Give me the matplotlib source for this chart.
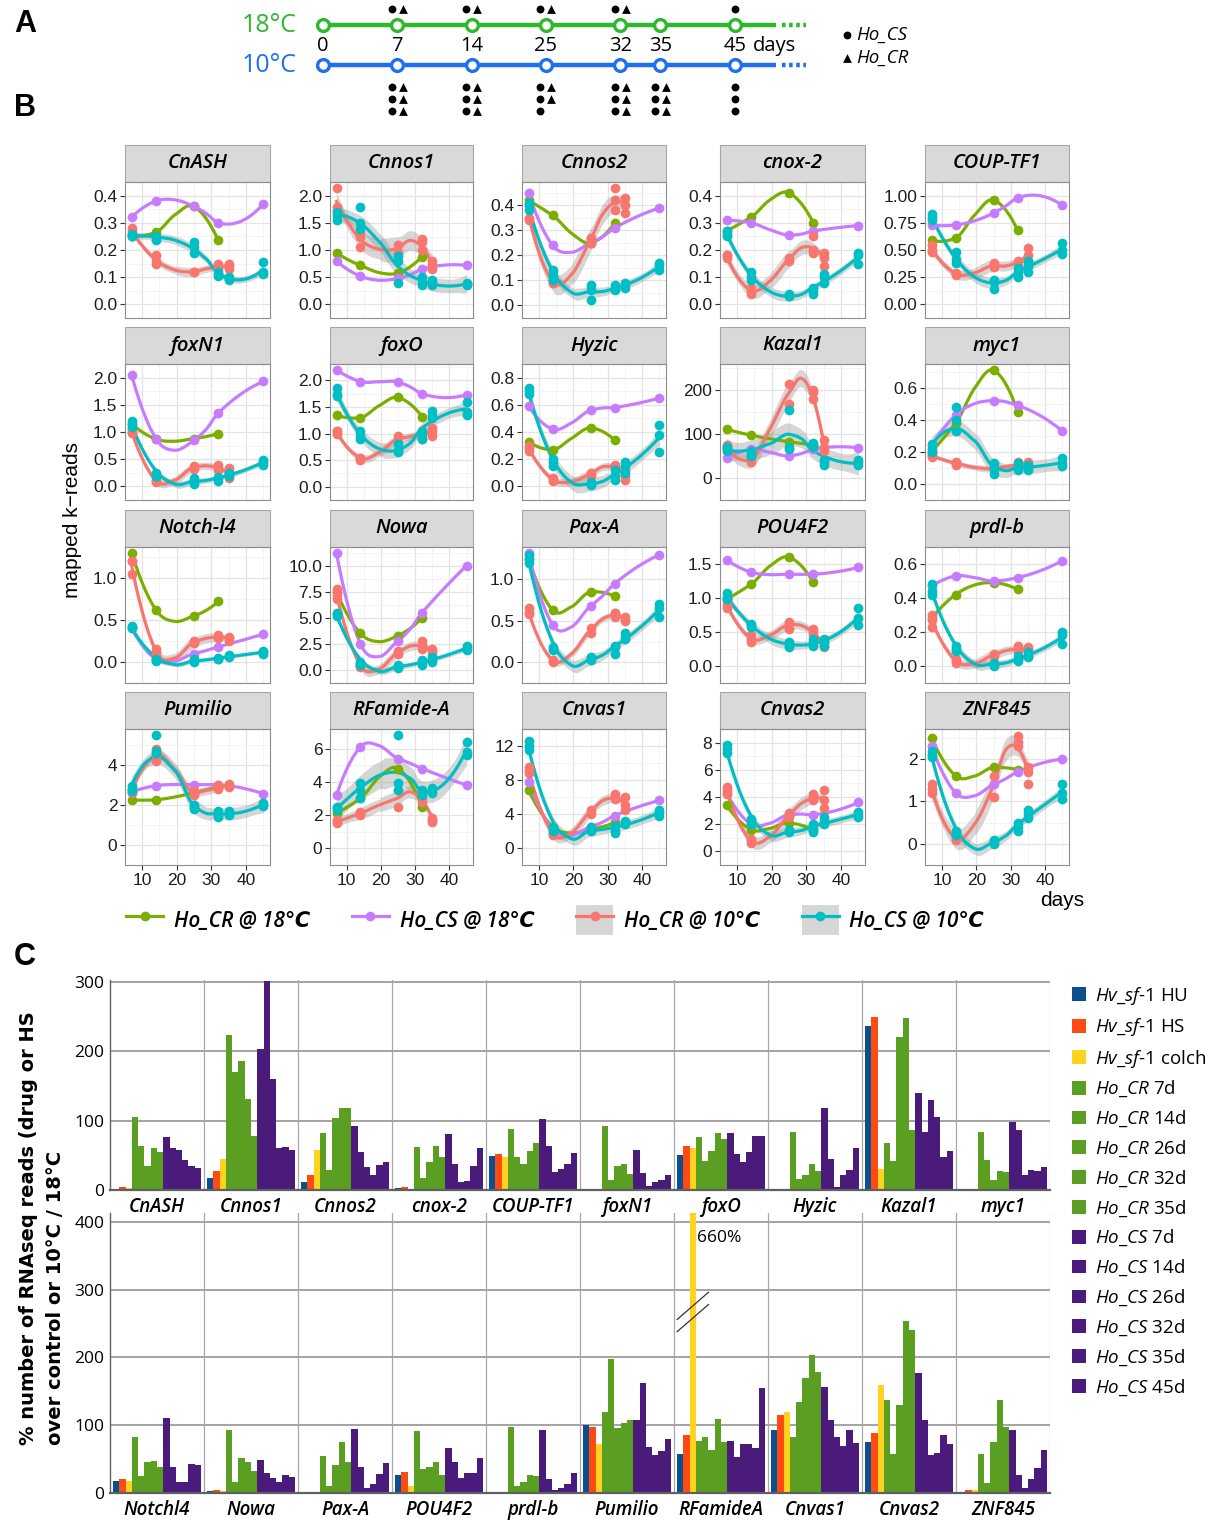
import numpy as np
import matplotlib
matplotlib.use("Agg")
import matplotlib.pyplot as plt
from matplotlib.patches import Rectangle, Patch
from matplotlib.lines import Line2D

plt.rcParams['font.family'] = ['Liberation Sans', 'DejaVu Sans']
plt.rcParams['mathtext.fontset'] = 'custom'
plt.rcParams['mathtext.it'] = 'Open Sans:italic'
plt.rcParams['mathtext.rm'] = 'Open Sans'

W, H = 1224, 1528

# ---------------- panel A: sampling scheme ----------------
timeline_days = [0, 7, 14, 25, 32, 35, 45]
# (Ho_CS, Ho_CR) replicates sampled per day
reps_18 = {7: (1, 1), 14: (1, 1), 25: (1, 1), 32: (1, 1), 45: (1, 0)}
reps_10 = {7: (3, 3), 14: (3, 3), 25: (3, 2), 32: (3, 3), 35: (3, 3), 45: (3, 0)}

# ---------------- panel B: mapped k-reads ----------------
genes_b = ['CnASH', 'Cnnos1', 'Cnnos2', 'cnox-2', 'COUP-TF1',
           'foxN1', 'foxO', 'Hyzic', 'Kazal1', 'myc1',
           'Notch-l4', 'Nowa', 'Pax-A', 'POU4F2', 'prdl-b',
           'Pumilio', 'RFamide-A', 'Cnvas1', 'Cnvas2', 'ZNF845']

days_cr18 = [7, 14, 25, 32]
days_cs18 = [7, 14, 25, 32, 45]
days_cr10 = [7, 14, 25, 32, 35]
days_cs10 = [7, 14, 25, 32, 35, 45]

cr18 = {
    'CnASH': [0.25, 0.265, 0.36, 0.235], 'Cnnos1': [0.95, 0.72, 0.58, 0.88],
    'Cnnos2': [0.42, 0.36, 0.25, 0.33], 'cnox-2': [0.27, 0.32, 0.41, 0.30],
    'COUP-TF1': [0.59, 0.61, 0.96, 0.68], 'foxN1': [1.15, 0.87, 0.88, 0.97],
    'foxO': [1.35, 1.30, 1.68, 1.32], 'Hyzic': [0.33, 0.27, 0.43, 0.34],
    'Kazal1': [110, 97, 82, 75], 'myc1': [0.20, 0.38, 0.71, 0.45],
    'Notch-l4': [1.30, 0.62, 0.55, 0.72], 'Nowa': [7.5, 3.5, 3.3, 5.0],
    'Pax-A': [1.25, 0.63, 0.85, 0.80], 'POU4F2': [0.98, 1.20, 1.60, 1.23],
    'prdl-b': [0.28, 0.42, 0.49, 0.45], 'Pumilio': [2.25, 2.25, 2.6, 2.9],
    'RFamide-A': [2.1, 3.0, 4.8, 2.5], 'Cnvas1': [6.8, 2.5, 2.2, 3.0],
    'Cnvas2': [3.4, 1.6, 2.1, 1.6], 'ZNF845': [2.5, 1.6, 1.8, 1.75],
}
cs18 = {
    'CnASH': [0.32, 0.38, 0.36, 0.30, 0.37], 'Cnnos1': [0.80, 0.52, 0.48, 0.65, 0.72],
    'Cnnos2': [0.45, 0.24, 0.25, 0.31, 0.39], 'cnox-2': [0.31, 0.30, 0.255, 0.27, 0.29],
    'COUP-TF1': [0.73, 0.73, 0.84, 0.98, 0.91], 'foxN1': [2.05, 0.88, 0.85, 1.35, 1.93],
    'foxO': [2.2, 1.98, 1.97, 1.75, 1.73], 'Hyzic': [0.59, 0.42, 0.56, 0.58, 0.65],
    'Kazal1': [45, 65, 50, 65, 68], 'myc1': [0.24, 0.43, 0.52, 0.49, 0.33],
    'Notch-l4': [0.40, 0.03, 0.10, 0.18, 0.33], 'Nowa': [11.2, 2.5, 2.8, 5.5, 10.0],
    'Pax-A': [1.32, 0.45, 0.68, 0.95, 1.30], 'POU4F2': [1.56, 1.38, 1.35, 1.35, 1.45],
    'prdl-b': [0.47, 0.53, 0.50, 0.52, 0.62], 'Pumilio': [2.65, 2.95, 3.0, 3.0, 2.55],
    'RFamide-A': [3.2, 6.1, 5.4, 4.8, 3.8], 'Cnvas1': [7.8, 2.2, 2.5, 3.8, 5.6],
    'Cnvas2': [4.3, 2.0, 2.7, 2.7, 3.6], 'ZNF845': [2.3, 1.2, 1.4, 1.7, 2.0],
}
cr10 = {
    'CnASH': [[0.28, 0.27, 0.26], [0.18, 0.16, 0.15], [0.12, 0.12], [0.15, 0.13, 0.14], [0.15, 0.13, 0.14]],
    'Cnnos1': [[2.15, 1.75, 1.8], [1.3, 1.05, 1.25], [0.95, 1.1], [1.2, 1.15, 1.0], [0.8, 0.65, 0.72]],
    'Cnnos2': [[0.35, 0.34, 0.40], [0.10, 0.09, 0.09], [0.27, 0.25], [0.47, 0.38, 0.42], [0.43, 0.40, 0.37]],
    'cnox-2': [[0.18, 0.17, 0.18], [0.04, 0.05, 0.06], [0.16, 0.17], [0.25, 0.19, 0.20], [0.14, 0.19, 0.17]],
    'COUP-TF1': [[0.55, 0.50, 0.48], [0.28, 0.29, 0.27], [0.38, 0.34], [0.40, 0.38, 0.36], [0.52, 0.45, 0.40]],
    'foxN1': [[0.98, 1.0, 1.05], [0.10, 0.08, 0.12], [0.38, 0.32], [0.40, 0.33, 0.30], [0.33, 0.15, 0.25]],
    'foxO': [[1.05, 1.05, 1.0], [0.55, 0.50, 0.55], [0.95, 0.85], [1.05, 0.90, 1.0], [1.1, 0.95, 1.05]],
    'Hyzic': [[0.28, 0.26, 0.30], [0.05, 0.04, 0.06], [0.10, 0.08], [0.15, 0.14, 0.16], [0.12, 0.05, 0.08]],
    'Kazal1': [[75, 70, 65], [40, 35, 45], [212, 168], [200, 178, 195], [85, 60, 70]],
    'myc1': [[0.18, 0.17, 0.18], [0.14, 0.12, 0.13], [0.10, 0.09], [0.14, 0.12, 0.10], [0.14, 0.12, 0.11]],
    'Notch-l4': [[1.2, 1.05, 1.2], [0.15, 0.10, 0.12], [0.25, 0.22], [0.32, 0.30, 0.28], [0.30, 0.28, 0.25]],
    'Nowa': [[7.8, 6.8, 7.2], [0.5, 0.3, 0.4], [1.8, 1.5], [2.8, 2.0, 2.4], [1.8, 1.5, 2.0]],
    'Pax-A': [[0.65, 0.58, 0.60], [0.03, 0.0, 0.02], [0.35, 0.42], [0.60, 0.55, 0.60], [0.50, 0.55, 0.52]],
    'POU4F2': [[0.85, 0.90, 0.95], [0.35, 0.45, 0.40], [0.65, 0.55], [0.50, 0.55, 0.45], [0.30, 0.35, 0.28]],
    'prdl-b': [[0.30, 0.27, 0.23], [0.03, 0.02, 0.04], [0.07, 0.06], [0.12, 0.10, 0.09], [0.11, 0.10, 0.08]],
    'Pumilio': [[2.8, 2.6, 2.7], [4.2, 4.5, 4.8], [2.5, 2.7], [3.0, 2.8, 2.9], [3.0, 2.9, 3.05]],
    'RFamide-A': [[1.5, 1.7, 1.6], [2.1, 2.2, 2.0], [3.5, 2.5], [3.3, 2.8, 3.0], [1.7, 1.6, 1.8]],
    'Cnvas1': [[9.5, 8.8, 9.2], [1.5, 1.6, 1.8], [4.5, 4.0], [6.3, 5.8, 6.0], [6.0, 5.0, 4.5]],
    'Cnvas2': [[4.7, 4.5, 4.2], [0.9, 0.8, 0.6], [2.8, 2.5], [4.2, 4.0, 3.8], [4.5, 3.8, 3.2]],
    'ZNF845': [[1.4, 1.2, 1.3], [0.10, 0.15, 0.12], [1.6, 1.1], [2.55, 2.3, 2.4], [1.8, 1.4, 1.7]],
}
cs10 = {
    'CnASH': [[0.26, 0.25, 0.25], [0.25, 0.24, 0.235], [0.23, 0.21, 0.19], [0.11, 0.105, 0.12], [0.10, 0.09, 0.095], [0.155, 0.11, 0.12]],
    'Cnnos1': [[1.7, 1.55, 1.65], [1.8, 1.5, 1.4], [0.9, 0.8, 0.4], [0.5, 0.4, 0.35], [0.45, 0.35, 0.4], [0.4, 0.35, 0.38]],
    'Cnnos2': [[0.41, 0.40, 0.38], [0.14, 0.12, 0.10], [0.08, 0.02, 0.06], [0.08, 0.06, 0.07], [0.09, 0.07, 0.08], [0.16, 0.14, 0.17]],
    'cnox-2': [[0.26, 0.27, 0.25], [0.12, 0.09, 0.10], [0.04, 0.03, 0.03], [0.04, 0.05, 0.06], [0.11, 0.08, 0.10], [0.19, 0.15, 0.18]],
    'COUP-TF1': [[0.83, 0.80, 0.78], [0.48, 0.38, 0.42], [0.21, 0.14, 0.22], [0.25, 0.30, 0.33], [0.35, 0.40, 0.30], [0.56, 0.50, 0.46]],
    'foxN1': [[1.2, 1.15, 1.1], [0.25, 0.20, 0.20], [0.05, 0.15, 0.10], [0.18, 0.10, 0.15], [0.20, 0.25, 0.22], [0.45, 0.40, 0.48]],
    'foxO': [[1.85, 1.75, 1.7], [1.05, 0.95, 0.9], [0.8, 0.65, 0.7], [0.9, 1.05, 1.0], [1.42, 1.35, 1.3], [1.6, 1.35, 1.4]],
    'Hyzic': [[0.72, 0.70, 0.68], [0.20, 0.15, 0.18], [0.02, 0.03, 0.01], [0.12, 0.05, 0.08], [0.15, 0.18, 0.10], [0.45, 0.38, 0.25]],
    'Kazal1': [[70, 65, 60], [55, 50, 60], [155, 65, 70], [80, 75, 70], [30, 35, 40], [35, 40, 30]],
    'myc1': [[0.25, 0.22, 0.20], [0.48, 0.33, 0.40], [0.13, 0.06, 0.10], [0.13, 0.09, 0.10], [0.10, 0.12, 0.09], [0.16, 0.11, 0.13]],
    'Notch-l4': [[0.42, 0.40, 0.43], [0.02, 0.03, 0.01], [0.02, 0.03, 0.0], [0.05, 0.03, 0.04], [0.08, 0.06, 0.07], [0.10, 0.13, 0.12]],
    'Nowa': [[5.5, 5.2, 5.4], [0.8, 0.5, 0.6], [0.2, 0.3, 0.5], [0.8, 1.0, 0.5], [1.0, 1.2, 0.8], [2.3, 1.9, 2.1]],
    'Pax-A': [[1.30, 1.25, 1.20], [0.18, 0.15, 0.16], [0.05, 0.03, 0.06], [0.10, 0.20, 0.18], [0.30, 0.28, 0.35], [0.65, 0.70, 0.55]],
    'POU4F2': [[1.08, 1.0, 0.98], [0.62, 0.60, 0.58], [0.28, 0.30, 0.35], [0.30, 0.35, 0.40], [0.40, 0.30, 0.35], [0.85, 0.70, 0.60]],
    'prdl-b': [[0.48, 0.44, 0.42], [0.12, 0.10, 0.09], [0.02, 0.01, 0.0], [0.06, 0.04, 0.03], [0.08, 0.05, 0.06], [0.20, 0.18, 0.13]],
    'Pumilio': [[2.95, 2.7, 2.8], [5.5, 4.7, 4.6], [1.8, 1.9, 2.0], [1.5, 1.4, 1.7], [1.6, 1.5, 1.7], [2.1, 2.0, 1.95]],
    'RFamide-A': [[2.5, 2.3, 2.4], [3.9, 3.0, 3.5], [6.8, 3.9, 3.5], [3.5, 3.2, 3.4], [3.4, 3.3, 3.6], [6.4, 5.8, 5.6]],
    'Cnvas1': [[12.6, 11.5, 12.0], [2.5, 2.0, 2.2], [2.5, 2.0, 2.2], [2.0, 1.8, 2.6], [2.8, 3.2, 3.0], [4.2, 3.8, 4.5]],
    'Cnvas2': [[7.8, 7.5, 7.2], [2.4, 2.2, 2.0], [1.5, 1.4, 1.6], [1.4, 1.6, 2.0], [2.5, 2.2, 2.0], [2.9, 2.5, 2.7]],
    'ZNF845': [[2.2, 2.05, 2.1], [0.3, 0.2, 0.25], [0.1, 0.0, 0.05], [0.5, 0.3, 0.4], [0.8, 0.6, 0.7], [1.4, 1.05, 1.2]],
}
yticks_b = {
    'CnASH': [0, 0.1, 0.2, 0.3, 0.4], 'Cnnos1': [0, 0.5, 1, 1.5, 2],
    'Cnnos2': [0, 0.1, 0.2, 0.3, 0.4], 'cnox-2': [0, 0.1, 0.2, 0.3, 0.4],
    'COUP-TF1': [0, 0.25, 0.5, 0.75, 1.0], 'foxN1': [0, 0.5, 1, 1.5, 2],
    'foxO': [0, 0.5, 1, 1.5, 2], 'Hyzic': [0, 0.2, 0.4, 0.6, 0.8],
    'Kazal1': [0, 100, 200], 'myc1': [0, 0.2, 0.4, 0.6],
    'Notch-l4': [0, 0.5, 1.0], 'Nowa': [0, 2.5, 5, 7.5, 10],
    'Pax-A': [0, 0.5, 1.0], 'POU4F2': [0, 0.5, 1.0, 1.5],
    'prdl-b': [0, 0.2, 0.4, 0.6], 'Pumilio': [0, 2, 4],
    'RFamide-A': [0, 2, 4, 6], 'Cnvas1': [0, 4, 8, 12],
    'Cnvas2': [0, 2, 4, 6, 8], 'ZNF845': [0, 1, 2],
}
ytick_dec = {'CnASH': 1, 'Cnnos1': 1, 'Cnnos2': 1, 'cnox-2': 1, 'COUP-TF1': 2,
             'foxN1': 1, 'foxO': 1, 'Hyzic': 1, 'Kazal1': 0, 'myc1': 1,
             'Notch-l4': 1, 'Nowa': 1, 'Pax-A': 1, 'POU4F2': 1, 'prdl-b': 1,
             'Pumilio': 0, 'RFamide-A': 0, 'Cnvas1': 0, 'Cnvas2': 0, 'ZNF845': 0}

# ---------------- panel C: % reads ----------------
genes_c_top = ['CnASH', 'Cnnos1', 'Cnnos2', 'cnox-2', 'COUP-TF1', 'foxN1', 'foxO', 'Hyzic', 'Kazal1', 'myc1']
genes_c_bot = ['Notchl4', 'Nowa', 'Pax-A', 'POU4F2', 'prdl-b', 'Pumilio', 'RFamideA', 'Cnvas1', 'Cnvas2', 'ZNF845']
series_c = [r'$\it{Hv\_sf}$-$\it{1}$ HU', r'$\it{Hv\_sf}$-$\it{1}$ HS', r'$\it{Hv\_sf}$-$\it{1}$ colch',
            r'$\it{Ho\_CR}$ 7d', r'$\it{Ho\_CR}$ 14d', r'$\it{Ho\_CR}$ 26d', r'$\it{Ho\_CR}$ 32d', r'$\it{Ho\_CR}$ 35d',
            r'$\it{Ho\_CS}$ 7d', r'$\it{Ho\_CS}$ 14d', r'$\it{Ho\_CS}$ 26d', r'$\it{Ho\_CS}$ 32d', r'$\it{Ho\_CS}$ 35d',
            r'$\it{Ho\_CS}$ 45d']
colors_c = ['#0B4F8F', '#FF4A12', '#FFD21F'] + ['#5A9E22'] * 5 + ['#4A1B7A'] * 6
hv_pct = {
    'CnASH': [2, 5, 3], 'Cnnos1': [17, 27, 45], 'Cnnos2': [12, 22, 58], 'cnox-2': [3, 5, 0],
    'COUP-TF1': [49, 52, 48], 'foxN1': [0, 2, 0], 'foxO': [50, 63, 61], 'Hyzic': [0, 0, 0],
    'Kazal1': [237, 250, 31], 'myc1': [0, 2, 1],
    'Notchl4': [17, 20, 17], 'Nowa': [3, 5, 3], 'Pax-A': [0, 2, 0], 'POU4F2': [26, 31, 10],
    'prdl-b': [0, 2, 0], 'Pumilio': [101, 98, 73], 'RFamideA': [58, 86, 660],
    'Cnvas1': [93, 115, 120], 'Cnvas2': [75, 88, 159], 'ZNF845': [0, 4, 4],
}
cr_pct = {
    'CnASH': [105, 63, 34, 61, 55], 'Cnnos1': [224, 170, 186, 132, 78], 'Cnnos2': [82, 29, 104, 119, 118],
    'cnox-2': [62, 17, 40, 64, 47], 'COUP-TF1': [88, 47, 38, 56, 68], 'foxN1': [93, 15, 34, 37, 23],
    'foxO': [77, 42, 56, 82, 74], 'Hyzic': [83, 16, 21, 38, 28], 'Kazal1': [68, 42, 221, 248, 86],
    'myc1': [83, 43, 14, 27, 26],
    'Notchl4': [83, 25, 46, 47, 38], 'Nowa': [93, 16, 52, 46, 32], 'Pax-A': [54, 10, 41, 75, 46],
    'POU4F2': [91, 36, 38, 46, 27], 'prdl-b': [97, 10, 16, 26, 25], 'Pumilio': [120, 197, 96, 103, 108],
    'RFamideA': [76, 82, 64, 109, 75], 'Cnvas1': [83, 134, 169, 203, 178], 'Cnvas2': [137, 58, 130, 254, 240],
    'ZNF845': [57, 15, 75, 137, 97],
}
cs_pct = {
    'CnASH': [77, 61, 58, 44, 35, 32], 'Cnnos1': [204, 302, 160, 60, 62, 57], 'Cnnos2': [92, 55, 33, 22, 36, 41],
    'cnox-2': [81, 37, 12, 13, 35, 61], 'COUP-TF1': [103, 63, 26, 30, 38, 54], 'foxN1': [57, 25, 6, 12, 15, 22],
    'foxO': [82, 52, 40, 55, 78, 78], 'Hyzic': [118, 45, 4, 21, 29, 60], 'Kazal1': [140, 84, 130, 105, 48, 56],
    'myc1': [98, 87, 21, 29, 28, 33],
    'Notchl4': [110, 38, 16, 16, 43, 42], 'Nowa': [49, 30, 22, 16, 26, 23], 'Pax-A': [95, 38, 7, 14, 28, 44],
    'POU4F2': [66, 46, 22, 29, 29, 51], 'prdl-b': [93, 21, 4, 8, 14, 30], 'Pumilio': [107, 162, 68, 56, 62, 80],
    'RFamideA': [76, 53, 73, 72, 67, 155], 'Cnvas1': [157, 107, 83, 70, 93, 74], 'Cnvas2': [177, 108, 56, 59, 85, 73],
    'ZNF845': [93, 26, 8, 21, 37, 63],
}

COL_CR18, COL_CS18, COL_CR10, COL_CS10 = '#7CAE00', '#C77CFF', '#F8766D', '#00BFC4'
GREEN_A, BLUE_A = '#2DB82D', '#1F6FEF'


def px_axes(fig, x0, y0, x1, y1):
    return fig.add_axes([x0 / W, 1 - y1 / H, (x1 - x0) / W, (y1 - y0) / H])


def loess(x, y, grid, span=0.75):
    # local quadratic loess (tricube weights); fitted at vertices and joined
    # with cubic Hermite pieces, like R's surface = "interpolate"
    x = np.asarray(x, float)
    y = np.asarray(y, float)
    n = len(x)
    q = max(int(np.floor(n * span)), 3)

    def lmat(x0):
        d = np.abs(x - x0)
        h = np.sort(d)[q - 1] * 1.05 + 1e-9
        w = (1 - np.clip(d / h, 0, 1) ** 3) ** 3
        X = np.column_stack([np.ones(n), x - x0, (x - x0) ** 2])
        XtW = X.T * w
        return np.linalg.pinv(XtW @ X) @ XtW

    ux = np.unique(x)
    verts = np.unique(np.concatenate([ux, (ux[:-1] + ux[1:]) / 2]))
    vm = [lmat(v) for v in verts]
    val = np.array([m[0] @ y for m in vm])
    slo = np.array([m[1] @ y for m in vm])
    idx = np.clip(np.searchsorted(verts, grid, side='right') - 1, 0, len(verts) - 2)
    hh = verts[idx + 1] - verts[idx]
    t = (grid - verts[idx]) / hh
    fit = ((2 * t ** 3 - 3 * t ** 2 + 1) * val[idx] + (t ** 3 - 2 * t ** 2 + t) * hh * slo[idx]
           + (-2 * t ** 3 + 3 * t ** 2) * val[idx + 1] + (t ** 3 - t ** 2) * hh * slo[idx + 1])

    L = np.array([lmat(v)[0] for v in x])
    res = y - L @ y
    M = np.eye(n) - L
    d1 = np.trace(M.T @ M)
    sigma = np.sqrt(np.sum(res ** 2) / d1) if d1 > 1e-6 else 0.0
    se = np.array([sigma * np.sqrt(np.sum(lmat(g)[0] ** 2)) for g in grid])
    return fit, se


fig = plt.figure(figsize=(W / 100, H / 100), dpi=100)

# panel labels
for lab, (lx, ly) in {'A': (25, 24), 'B': (25, 108), 'C': (25, 957)}.items():
    fig.text(lx / W, 1 - ly / H, lab, fontsize=22, fontweight='bold', ha='center', va='center')

# ================= panel A =================
slots = [0, 1, 2, 3, 4, 4.54, 5.55]
slot_of = dict(zip(timeline_days, slots))
axA = px_axes(fig, 0, 0, W, 125)
axA.set_xlim(-323 / 74.3, (W - 323) / 74.3)
axA.set_ylim(125, 0)
axA.axis('off')
for yl, col, lab in [(25, GREEN_A, '18°C'), (65, BLUE_A, '10°C')]:
    axA.plot([0, 6.1], [yl, yl], color=col, lw=3.2, solid_capstyle='butt', zorder=1)
    axA.plot([6.18, 6.5], [yl, yl], color=col, lw=3.2, ls=(0, (0.8, 0.8)), zorder=1)
    axA.plot(slots, [yl] * len(slots), 'o', ms=8.5, mfc='white', mec=col, mew=2.4, zorder=2)
    axA.text(-0.36, yl, lab, color=col, ha='right', va='center', fontsize=18, family='Open Sans')
for d, s in zip(timeline_days, slots):
    axA.text(s, 46, str(d), ha='center', va='center', fontsize=14.5, family='Open Sans')
axA.text(slots[-1] + 0.24, 46, 'days', ha='left', va='center', fontsize=14.5, family='Open Sans')


def draw_reps(reps, rows_y):
    for d, (ncs, ncr) in reps.items():
        s = slot_of[d]
        for r in range(max(ncs, ncr)):
            yy = rows_y[r]
            if r < ncs:
                axA.scatter([s - (0.075 if ncr else 0)], [yy], s=32, marker='o', color='black', lw=0)
            if r < ncr:
                axA.scatter([s + 0.075], [yy], s=40, marker='^', color='black', lw=0)


draw_reps(reps_18, [9])
draw_reps(reps_10, [87, 99, 111])
axA.scatter([7.05], [35], s=32, marker='o', color='black', lw=0)
axA.scatter([7.05], [58], s=40, marker='^', color='black', lw=0)
axA.text(7.18, 35, 'Ho_CS', style='italic', fontsize=13.5, va='center', family='Open Sans')
axA.text(7.18, 58, 'Ho_CR', style='italic', fontsize=13.5, va='center', family='Open Sans')

# ================= panel B =================
col_x = [(125, 270), (330, 473), (522, 666), (720, 865), (925, 1069)]
row_y = [(182, 318), (364, 500), (547, 683), (729, 865)]
STRIP = 37
T = 2.1

for gi, gene in enumerate(genes_b):
    r, c = divmod(gi, 5)
    (x0, x1), (y0, y1) = col_x[c], row_y[r]
    ax = px_axes(fig, x0, y0, x1, y1)
    ext = [0.0]
    series = [
        (days_cr18, [[v] for v in cr18[gene]], COL_CR18, False),
        (days_cs18, [[v] for v in cs18[gene]], COL_CS18, False),
        (days_cr10, cr10[gene], COL_CR10, True),
        (days_cs10, cs10[gene], COL_CS10, True),
    ]
    fits = []
    for days, reps, col, se in series:
        xs = np.concatenate([[d] * len(rv) for d, rv in zip(days, reps)])
        ys = np.concatenate(reps)
        grid = np.linspace(min(days), max(days), 80)
        yg, sg = loess(xs, ys, grid)
        fits.append((xs, ys, grid, yg, col))
        ext += list(ys) + list(yg)
        if se:
            ext += list(yg - T * sg) + list(yg + T * sg)
            ax.fill_between(grid, yg - T * sg, yg + T * sg, color='#999999', alpha=0.4, lw=0, zorder=1)
    for xs, ys, grid, yg, col in fits:
        ax.plot(grid, yg, color=col, lw=2.3, zorder=3)
        ax.plot(xs, ys, 'o', color=col, ms=7, mew=0, zorder=4)
    lo, hi = min(ext), max(ext)
    pad = 0.05 * (hi - lo)
    ax.set_ylim(lo - pad, hi + pad)
    ax.set_xlim(5.1, 46.9)
    ticks = yticks_b[gene]
    ax.set_yticks(ticks)
    ax.set_yticklabels([f'{t:.{ytick_dec[gene]}f}' for t in ticks])
    step = ticks[1] - ticks[0]
    ax.set_yticks([t + step / 2 for t in [ticks[0] - step] + ticks], minor=True)
    ax.set_xticks([10, 20, 30, 40])
    ax.set_xticks([15, 25, 35, 45], minor=True)
    ax.grid(True, which='major', color='#E3E3E3', lw=0.9, zorder=0)
    ax.grid(True, which='minor', color='#F1F1F1', lw=0.6, zorder=0)
    ax.set_axisbelow(True)
    for sp in ax.spines.values():
        sp.set_color('#8C8C8C')
        sp.set_linewidth(0.8)
    ax.tick_params(which='minor', length=0)
    ax.tick_params(axis='y', which='major', length=3.5, color='#333333', labelsize=12.5, labelcolor='#1E1E1E', pad=2)
    bottom = (r == 3)
    ax.tick_params(axis='x', which='major', length=3.5 if bottom else 0, color='#333333',
                   labelsize=12.5, labelcolor='#1E1E1E', labelbottom=bottom, pad=2)
    hs = STRIP / (y1 - y0)
    ax.add_patch(Rectangle((0, 1), 1, hs, transform=ax.transAxes, clip_on=False,
                           facecolor='#D9D9D9', edgecolor='#A6A6A6', lw=0.8))
    ax.text(0.5, 1 + hs / 2, gene, transform=ax.transAxes, ha='center', va='center',
            fontsize=14.5, style='italic', fontweight='semibold', family='Open Sans')

fig.text(72 / W, 1 - 520 / H, 'mapped k\u2212reads', rotation=90, ha='center', va='center', fontsize=15)
fig.text(1062 / W, 1 - 900 / H, 'days', ha='center', va='center', fontsize=15)

leg_handles = [
    Line2D([], [], color=COL_CR18, lw=2.3, marker='o', ms=7, mew=0),
    Line2D([], [], color=COL_CS18, lw=2.3, marker='o', ms=7, mew=0),
    (Patch(facecolor='#D6D6D6', edgecolor='none'), Line2D([], [], color=COL_CR10, lw=2.3, marker='o', ms=7, mew=0)),
    (Patch(facecolor='#D6D6D6', edgecolor='none'), Line2D([], [], color=COL_CS10, lw=2.3, marker='o', ms=7, mew=0)),
]
leg_labels = ['Ho_CR @ 18\u2103', 'Ho_CS @ 18\u2103', 'Ho_CR @ 10\u2103', 'Ho_CS @ 10\u2103']
fig.legend(leg_handles, leg_labels, loc='center', bbox_to_anchor=(555 / W, 1 - 920 / H), ncol=4,
           frameon=False, handlelength=1.8, handleheight=1.9, handletextpad=0.5, columnspacing=2.0,
           prop={'family': ['Open Sans', 'DejaVu Sans'], 'style': 'italic', 'weight': 'semibold', 'size': 15})

# ================= panel C =================
GW = 15


def bar_chart(ax, genes, ymax, yt):
    ax.set_facecolor('none')
    for g, gene in enumerate(genes):
        vals = hv_pct[gene] + cr_pct[gene] + cs_pct[gene]
        xs = [g * GW + 1 + i for i in range(len(vals))]
        ax.bar(xs, vals, width=1.0, color=colors_c, lw=0, zorder=2)
    ax.set_xlim(0, GW * len(genes))
    ax.set_ylim(0, ymax)
    ax.set_yticks(yt)
    ax.set_yticklabels([str(t) for t in yt], family='Open Sans', fontsize=12.5)
    ax.set_xticks([g * GW + GW / 2 for g in range(len(genes))])
    ax.set_xticklabels(genes, style='italic', fontweight='semibold', family='Open Sans', fontsize=13.5)
    ax.tick_params(length=0, pad=4)
    ax.tick_params(axis='x', pad=5)
    for t in yt[1:]:
        ax.axhline(t, color='#8A8A8A', lw=1.1, zorder=1)
    for g in range(1, len(genes) + 1):
        ax.axvline(g * GW, color='#A8A8A8', lw=0.9, zorder=1)
    for s in ['top', 'right']:
        ax.spines[s].set_visible(False)
    ax.spines['left'].set_color('#606060')
    ax.spines['bottom'].set_color('#606060')
    ax.spines['left'].set_linewidth(1.0)
    ax.spines['bottom'].set_linewidth(1.6)


axC2 = px_axes(fig, 110, 1213, 1050, 1493)
bar_chart(axC2, genes_c_bot, 413, [0, 100, 200, 300, 400])
axC1 = px_axes(fig, 110, 980, 1050, 1190)
bar_chart(axC1, genes_c_top, 303, [0, 100, 200, 300])

# broken 660% bar
gb = genes_c_bot.index('RFamideA')
bx = gb * GW + 1 + 2
for off in (0, 18):
    axC2.plot([bx - 2.5, bx + 2.5], [238 + off, 278 + off], color='#333333', lw=0.9, zorder=3)
axC2.text(bx + 0.7, 376, f'{hv_pct["RFamideA"][2]}%', fontsize=12.5, family='Open Sans', va='center')

fig.text(42 / W, 1 - 1445 / H, '% number of RNAseq reads (drug or HS\nover control or 10\u00b0C / 18\u00b0C',
         rotation=90, ha='center', va='bottom', multialignment='left', fontsize=14,
         fontweight='bold', family='DejaVu Sans', linespacing=1.5)

c_handles = [Patch(facecolor=c, edgecolor='none') for c in colors_c]
fig.legend(c_handles, series_c, loc='upper left', bbox_to_anchor=(1055 / W, 1 - 968 / H), frameon=False,
           handlelength=0.75, handleheight=0.75, handletextpad=0.5, labelspacing=0.5,
           prop={'family': 'Open Sans', 'size': 13.5})

fig.savefig('out.png', dpi=100)
